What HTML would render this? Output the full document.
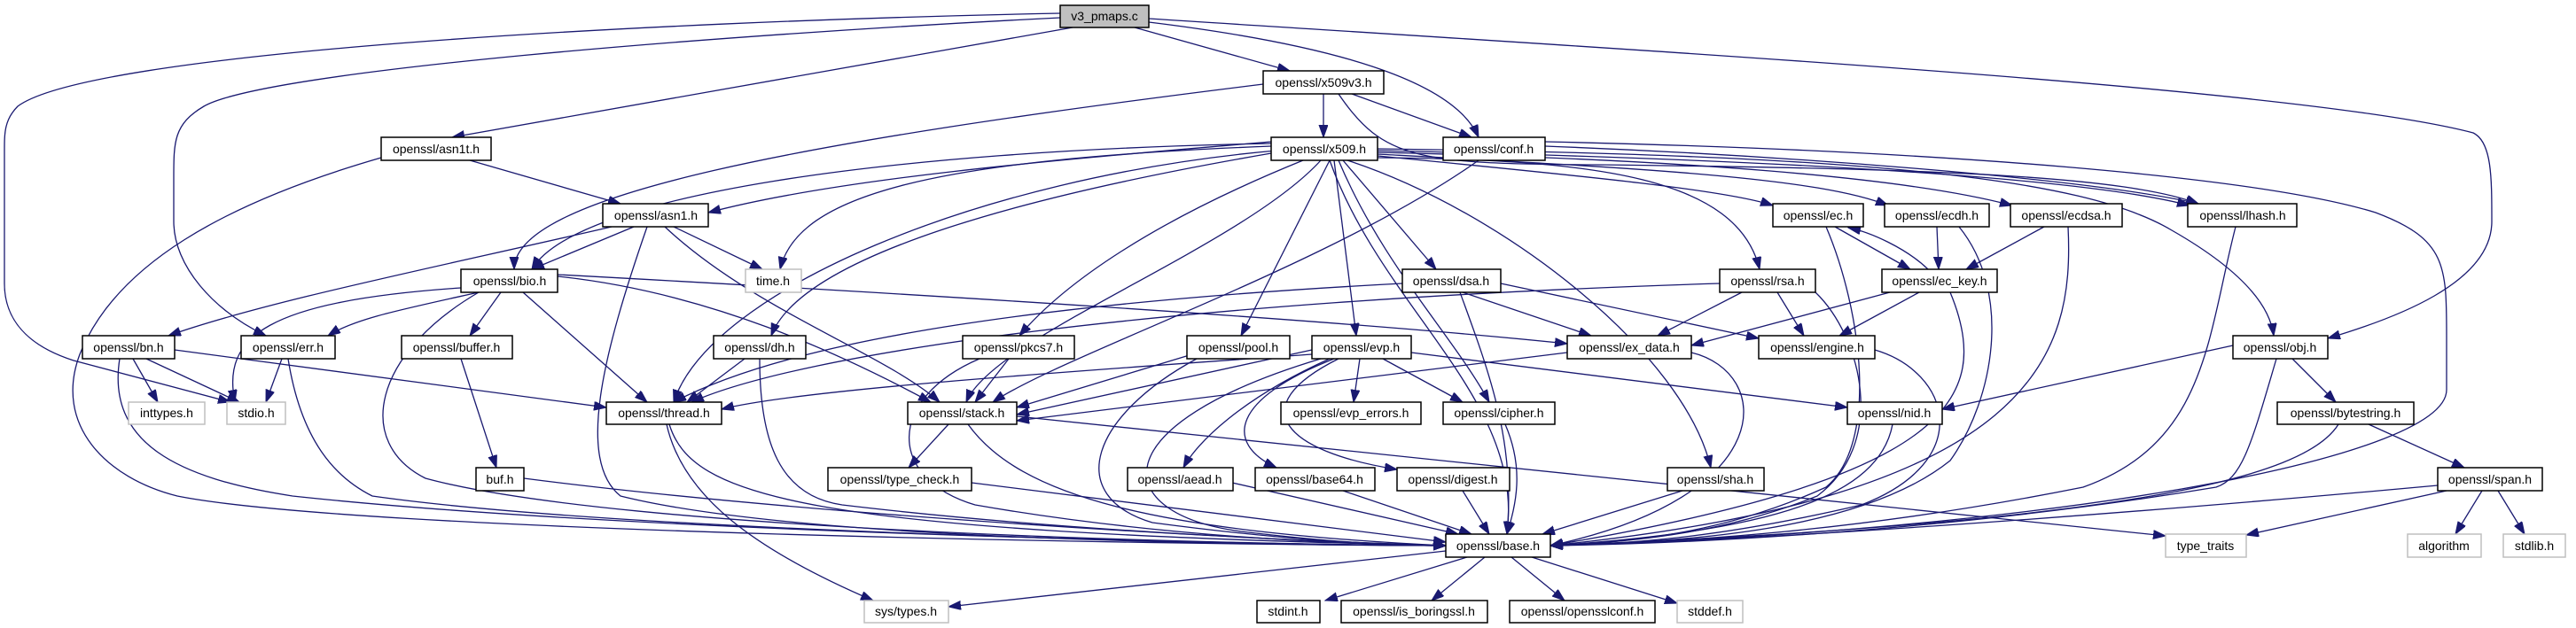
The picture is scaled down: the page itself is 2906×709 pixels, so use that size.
<!DOCTYPE html>
<html><head><meta charset="utf-8"><style>html,body{margin:0;padding:0;background:#fff}svg{display:block}</style></head>
<body>
<svg xmlns="http://www.w3.org/2000/svg" width="2906" height="709" viewBox="0 0 2906 709">
<defs><marker id="a" markerUnits="userSpaceOnUse" markerWidth="15" markerHeight="11" refX="14" refY="5" orient="auto"><path d="M0,0 L14,5 L0,10 z" fill="#191970" stroke="#191970" stroke-width="1"/></marker></defs>
<g fill="none" stroke="#191970" stroke-width="1.3" marker-end="url(#a)">
<path d="M1210,31 L510,155"/>
<path d="M1280,31 L1455,80"/>
<path d="M1296,25 C1500,50 1640,90 1668,155"/>
<path d="M1296,21 C1900,60 2600,100 2790,150 C2811,160 2811,200 2811,250 C2811,320 2700,360 2626,382"/>
<path d="M1196,20 C800,40 300,80 230,120 C196,140 196,160 196,200 L196,250 C196,300 240,350 300,379"/>
<path d="M1196,15 C700,25 100,60 20,120 C5,135 5,150 5,170 L5,320 C5,360 30,390 83,407 L260,454"/>
<path d="M1425,95 C900,160 580,220 580,304"/>
<path d="M1493,106 L1493,155"/>
<path d="M1525,106 L1660,155"/>
<path d="M1510,106 C1560,180 1600,185 1800,186 C2200,190 2400,200 2480,230"/>
<path d="M530,181 L700,230"/>
<path d="M430,178 C250,230 130,300 90,400 C60,480 120,540 200,560 C400,600 1300,615 1631,616"/>
<path d="M1434,160 C1200,180 950,200 799,240"/>
<path d="M1434,162 C1000,170 650,220 600,304"/>
<path d="M1434,165 C1050,180 900,220 880,304"/>
<path d="M1440,170 C1100,200 800,330 760,454"/>
<path d="M1440,172 C1100,230 900,300 870,379"/>
<path d="M1470,181 C1300,250 1200,320 1150,379"/>
<path d="M1490,181 C1400,280 1120,380 1090,454"/>
<path d="M1500,181 L1400,379"/>
<path d="M1505,181 L1530,379"/>
<path d="M1515,181 L1620,304"/>
<path d="M1510,181 C1560,300 1640,380 1680,454"/>
<path d="M1500,181 C1560,350 1720,450 1700,603"/>
<path d="M1520,181 C1700,240 1900,400 1930,528"/>
<path d="M1554,178 C1800,180 1960,200 1985,304"/>
<path d="M1554,176 C1800,200 1950,215 2000,232"/>
<path d="M1554,174 C1850,190 2050,200 2130,232"/>
<path d="M1554,172 C1900,180 2150,200 2270,232"/>
<path d="M1554,170 C2000,180 2350,200 2470,232"/>
<path d="M1554,168 C2100,175 2350,200 2450,260 C2520,300 2560,340 2565,379"/>
<path d="M1668,181 C1500,300 1200,400 1120,454"/>
<path d="M1743,165 C2000,175 2350,200 2480,230"/>
<path d="M1743,160 C2200,170 2550,200 2680,240 C2760,270 2760,300 2760,380 L2760,440 C2760,520 2300,600 1749,616"/>
<path d="M690,256 C500,300 300,340 190,379"/>
<path d="M715,256 L600,304"/>
<path d="M760,256 L860,304"/>
<path d="M750,256 C850,350 1000,400 1060,454"/>
<path d="M730,256 C680,400 650,520 700,560 C900,610 1400,615 1631,616"/>
<path d="M540,330 C450,350 400,360 370,379"/>
<path d="M565,330 L530,379"/>
<path d="M590,330 L730,454"/>
<path d="M629,312 C800,330 950,400 1050,454"/>
<path d="M629,310 C1000,330 1500,360 1768,388"/>
<path d="M520,325 C300,340 250,380 265,454"/>
<path d="M540,330 C420,400 400,500 480,540 C700,600 1400,615 1631,616"/>
<path d="M150,405 L178,454"/>
<path d="M165,405 L270,454"/>
<path d="M197,395 L684,460"/>
<path d="M135,405 C120,500 200,540 330,560 C700,600 1400,615 1631,616"/>
<path d="M318,405 L300,454"/>
<path d="M325,405 C340,500 380,540 420,560 C700,600 1400,615 1631,616"/>
<path d="M520,405 L560,528"/>
<path d="M591,540 C900,580 1400,610 1631,616"/>
<path d="M840,405 L775,454"/>
<path d="M857,405 C857,500 880,560 950,570 C1200,600 1500,612 1631,616"/>
<path d="M755,479 C780,560 900,600 1631,616"/>
<path d="M752,479 C770,560 850,620 985,678"/>
<path d="M1138,405 L1100,454"/>
<path d="M1105,405 C1000,450 1000,540 1100,570 C1300,605 1500,614 1631,616"/>
<path d="M1345,400 L1147,460"/>
<path d="M1350,405 C1230,470 1200,560 1300,590 C1450,610 1550,615 1631,616"/>
<path d="M1480,400 C1200,420 900,440 814,462"/>
<path d="M1480,395 L1147,468"/>
<path d="M1534,405 L1527,454"/>
<path d="M1560,405 L1650,454"/>
<path d="M1500,405 C1400,450 1350,500 1335,528"/>
<path d="M1505,405 C1390,450 1380,500 1440,528"/>
<path d="M1510,405 C1400,460 1450,510 1576,530"/>
<path d="M1592,398 L2084,460"/>
<path d="M1490,405 C1240,480 1250,580 1400,600 C1500,612 1560,615 1631,616"/>
<path d="M1768,398 L1147,475"/>
<path d="M1908,398 C2000,420 2010,560 1749,616"/>
<path d="M1693,320 L1984,382"/>
<path d="M1650,330 L1795,379"/>
<path d="M1582,320 C1200,340 900,380 760,454"/>
<path d="M1647,330 C1680,420 1710,500 1700,603"/>
<path d="M2005,330 L2035,379"/>
<path d="M1965,330 L1870,379"/>
<path d="M1940,320 C1300,340 900,400 780,454"/>
<path d="M2048,330 C2100,380 2130,500 2050,560 C1950,600 1850,612 1749,616"/>
<path d="M2070,256 L2155,304"/>
<path d="M2175,304 C2150,280 2110,262 2085,257"/>
<path d="M2060,256 C2100,350 2120,500 2060,550 C1950,600 1850,612 1749,616"/>
<path d="M2185,256 L2187,304"/>
<path d="M2210,256 C2270,330 2250,450 2200,520 C2100,600 1900,612 1749,616"/>
<path d="M2306,256 L2218,304"/>
<path d="M2333,256 C2340,400 2300,560 1749,616"/>
<path d="M2522,256 C2490,380 2490,500 2350,550 C2100,600 1900,612 1749,616"/>
<path d="M2165,330 L2075,379"/>
<path d="M2132,330 L1908,390"/>
<path d="M2200,330 C2250,450 2200,540 1749,616"/>
<path d="M2115,395 C2200,420 2230,520 2100,570 C1950,605 1850,614 1749,616"/>
<path d="M1070,479 L1025,528"/>
<path d="M1147,470 L2443,605"/>
<path d="M1092,479 C1150,560 1300,600 1631,616"/>
<path d="M1096,545 L1631,612"/>
<path d="M1698,479 C1720,530 1710,570 1700,603"/>
<path d="M1390,545 L1645,603"/>
<path d="M1515,554 L1660,603"/>
<path d="M1650,554 L1680,603"/>
<path d="M1898,554 L1740,603"/>
<path d="M2135,479 C2120,560 2000,600 1749,616"/>
<path d="M2519,390 L2191,462"/>
<path d="M2586,405 L2635,454"/>
<path d="M2568,405 C2540,500 2530,540 2500,550 C2200,600 1900,614 1749,616"/>
<path d="M2672,479 L2780,528"/>
<path d="M2638,479 C2600,540 2400,590 1749,616"/>
<path d="M2760,554 L2534,604"/>
<path d="M2800,554 L2770,603"/>
<path d="M2818,554 L2848,603"/>
<path d="M2750,548 C2400,580 2000,610 1749,616"/>
<path d="M1631,622 L1070,685"/>
<path d="M1655,629 L1495,678"/>
<path d="M1675,629 L1615,678"/>
<path d="M1705,629 L1765,678"/>
<path d="M1728,629 L1892,681"/>
</g>
<g font-family="Liberation Sans, sans-serif" font-size="14" text-anchor="middle" stroke-width="1.5">
<g fill="#fff" stroke="#000">
<rect x="1196" y="6" width="100" height="25" fill="#bfbfbf"/>
<rect x="1425" y="80" width="136" height="26"/>
<rect x="430" y="155" width="124" height="26"/>
<rect x="1434" y="155" width="120" height="26"/>
<rect x="1628" y="155" width="115" height="26"/>
<rect x="680" y="230" width="119" height="26"/>
<rect x="2000" y="230" width="102" height="26"/>
<rect x="2126" y="230" width="118" height="26"/>
<rect x="2268" y="230" width="126" height="26"/>
<rect x="2468" y="230" width="123" height="26"/>
<rect x="520" y="304" width="109" height="26"/>
<rect x="1582" y="304" width="111" height="26"/>
<rect x="1940" y="304" width="108" height="26"/>
<rect x="2123" y="304" width="130" height="26"/>
<rect x="93" y="379" width="104" height="26"/>
<rect x="272" y="379" width="106" height="26"/>
<rect x="453" y="379" width="125" height="26"/>
<rect x="805" y="379" width="104" height="26"/>
<rect x="1086" y="379" width="126" height="26"/>
<rect x="1339" y="379" width="116" height="26"/>
<rect x="1480" y="379" width="112" height="26"/>
<rect x="1768" y="379" width="140" height="26"/>
<rect x="1984" y="379" width="131" height="26"/>
<rect x="2519" y="379" width="107" height="26"/>
<rect x="684" y="454" width="130" height="25"/>
<rect x="1024" y="454" width="123" height="25"/>
<rect x="1445" y="454" width="158" height="25"/>
<rect x="1628" y="454" width="126" height="25"/>
<rect x="2084" y="454" width="107" height="25"/>
<rect x="2569" y="454" width="154" height="25"/>
<rect x="537" y="528" width="54" height="26"/>
<rect x="934" y="528" width="162" height="26"/>
<rect x="1272" y="528" width="119" height="26"/>
<rect x="1416" y="528" width="135" height="26"/>
<rect x="1576" y="528" width="127" height="26"/>
<rect x="1881" y="528" width="109" height="26"/>
<rect x="2750" y="528" width="118" height="26"/>
<rect x="1631" y="603" width="118" height="26"/>
<rect x="1418" y="678" width="71" height="25"/>
<rect x="1513" y="678" width="165" height="25"/>
<rect x="1703" y="678" width="164" height="25"/>
</g>
<g fill="#fff" stroke="#bfbfbf">
<rect x="841" y="304" width="63" height="26"/>
<rect x="145" y="454" width="86" height="25"/>
<rect x="256" y="454" width="66" height="25"/>
<rect x="2443" y="603" width="91" height="26"/>
<rect x="2716" y="603" width="83" height="26"/>
<rect x="2824" y="603" width="70" height="26"/>
<rect x="975" y="678" width="95" height="25"/>
<rect x="1892" y="678" width="74" height="25"/>
</g>
<g fill="#000">
<text x="1246" y="23">v3_pmaps.c</text>
<text x="1493" y="98">openssl/x509v3.h</text>
<text x="492" y="173">openssl/asn1t.h</text>
<text x="1494" y="173">openssl/x509.h</text>
<text x="1685" y="173">openssl/conf.h</text>
<text x="740" y="248">openssl/asn1.h</text>
<text x="2051" y="248">openssl/ec.h</text>
<text x="2185" y="248">openssl/ecdh.h</text>
<text x="2331" y="248">openssl/ecdsa.h</text>
<text x="2530" y="248">openssl/lhash.h</text>
<text x="575" y="322">openssl/bio.h</text>
<text x="872" y="322">time.h</text>
<text x="1637" y="322">openssl/dsa.h</text>
<text x="1994" y="322">openssl/rsa.h</text>
<text x="2188" y="322">openssl/ec_key.h</text>
<text x="145" y="397">openssl/bn.h</text>
<text x="325" y="397">openssl/err.h</text>
<text x="515" y="397">openssl/buffer.h</text>
<text x="857" y="397">openssl/dh.h</text>
<text x="1149" y="397">openssl/pkcs7.h</text>
<text x="1397" y="397">openssl/pool.h</text>
<text x="1536" y="397">openssl/evp.h</text>
<text x="1838" y="397">openssl/ex_data.h</text>
<text x="2050" y="397">openssl/engine.h</text>
<text x="2572" y="397">openssl/obj.h</text>
<text x="188" y="471">inttypes.h</text>
<text x="289" y="471">stdio.h</text>
<text x="749" y="471">openssl/thread.h</text>
<text x="1085" y="471">openssl/stack.h</text>
<text x="1524" y="471">openssl/evp_errors.h</text>
<text x="1691" y="471">openssl/cipher.h</text>
<text x="2137" y="471">openssl/nid.h</text>
<text x="2646" y="471">openssl/bytestring.h</text>
<text x="564" y="546">buf.h</text>
<text x="1015" y="546">openssl/type_check.h</text>
<text x="1331" y="546">openssl/aead.h</text>
<text x="1483" y="546">openssl/base64.h</text>
<text x="1639" y="546">openssl/digest.h</text>
<text x="1935" y="546">openssl/sha.h</text>
<text x="2809" y="546">openssl/span.h</text>
<text x="1690" y="621">openssl/base.h</text>
<text x="2488" y="621">type_traits</text>
<text x="2757" y="621">algorithm</text>
<text x="2859" y="621">stdlib.h</text>
<text x="1022" y="695">sys/types.h</text>
<text x="1453" y="695">stdint.h</text>
<text x="1595" y="695">openssl/is_boringssl.h</text>
<text x="1785" y="695">openssl/opensslconf.h</text>
<text x="1929" y="695">stddef.h</text>
</g>
</g>
</svg>
</body></html>
